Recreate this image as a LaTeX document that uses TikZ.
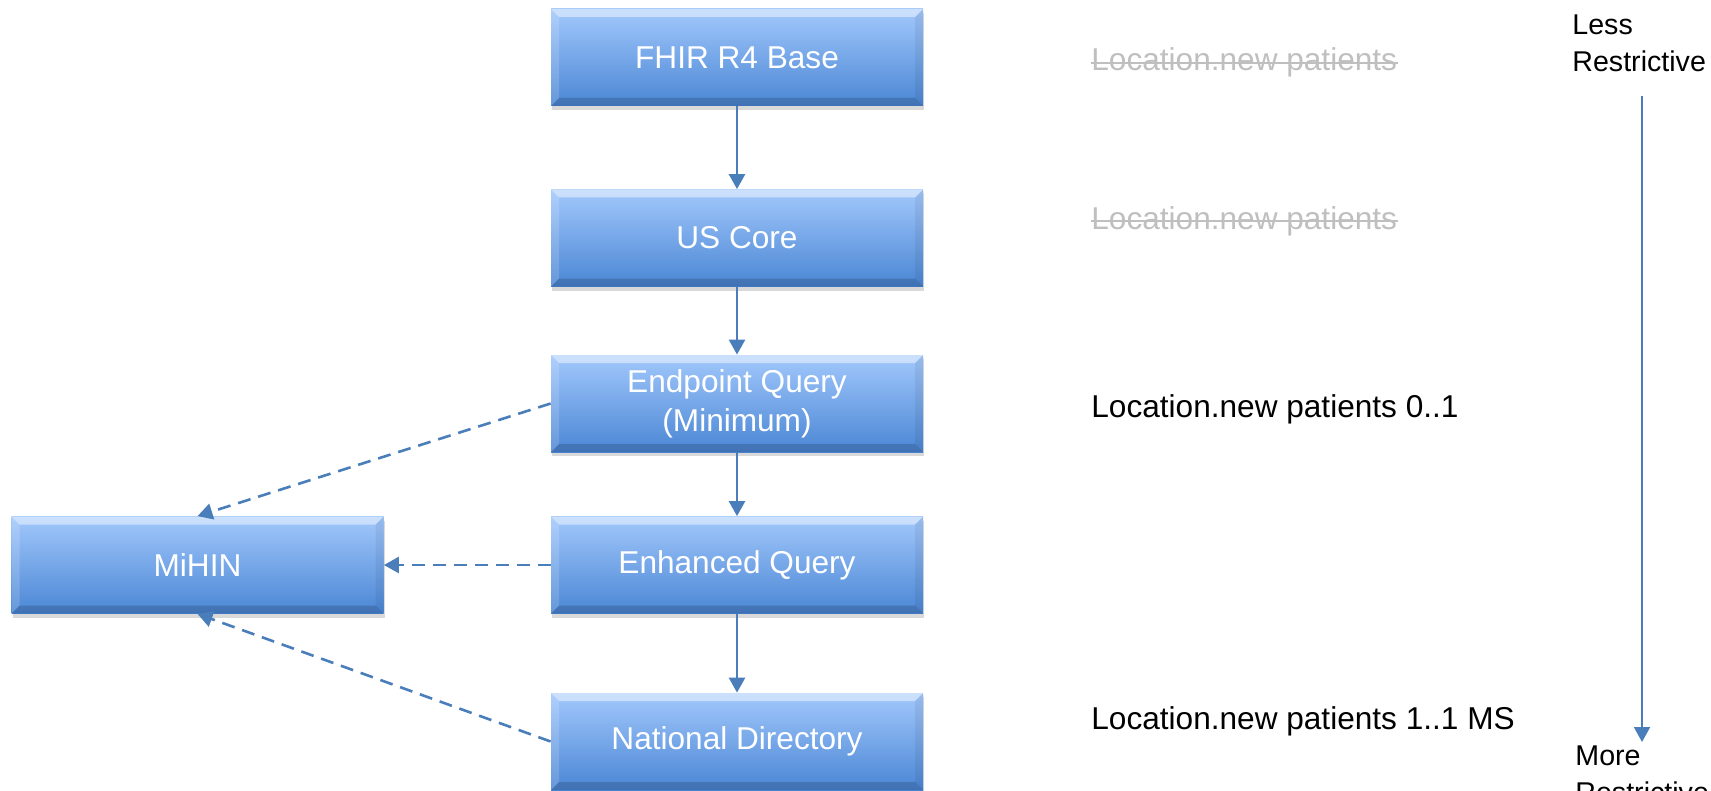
\documentclass[tikz,border=0pt]{standalone}
\usepackage{fontspec}
\setmainfont{Liberation Sans}
\usetikzlibrary{positioning, arrows.meta, shadows}

\definecolor{linkblue}{RGB}{74,126,187}
\definecolor{boxtop}{RGB}{162,200,252}
\definecolor{boxbottom}{RGB}{74,134,212}
\definecolor{oldgray}{RGB}{191,191,191}

\begin{document}
\begin{tikzpicture}[x=0.5pt, y=-0.5pt]
        \tikzstyle{stage}=[rectangle, minimum width=186pt, minimum height=48.5pt, inner sep=0pt,
            top color=boxtop, bottom color=boxbottom, text=white, align=center,
            font=\fontsize{15.8}{19.5}\selectfont,
            drop shadow={shadow xshift=0.5pt, shadow yshift=-2pt, opacity=0.3},
            path picture={
                \fill[white, opacity=0.45] (path picture bounding box.north west) -- (path picture bounding box.north east)
                    -- ([shift={(-4pt,-4pt)}]path picture bounding box.north east) -- ([shift={(4pt,-4pt)}]path picture bounding box.north west) -- cycle;
                \fill[white, opacity=0.15] (path picture bounding box.north west) -- (path picture bounding box.south west)
                    -- ([shift={(4pt,4pt)}]path picture bounding box.south west) -- ([shift={(4pt,-4pt)}]path picture bounding box.north west) -- cycle;
                \fill[black, opacity=0.06] (path picture bounding box.north east) -- (path picture bounding box.south east)
                    -- ([shift={(-4pt,4pt)}]path picture bounding box.south east) -- ([shift={(-4pt,-4pt)}]path picture bounding box.north east) -- cycle;
                \fill[black, opacity=0.15] (path picture bounding box.south west) -- (path picture bounding box.south east)
                    -- ([shift={(-4pt,4pt)}]path picture bounding box.south east) -- ([shift={(4pt,4pt)}]path picture bounding box.south west) -- cycle;
            }];
        \tikzstyle{note}=[anchor=base west, inner sep=0pt, font=\fontsize{15.8}{19.5}\selectfont];
        \tikzstyle{struck}=[oldgray, line width=0.9pt];
        \tikzstyle{rank}=[anchor=base west, inner sep=0pt, align=left, font=\fontsize{14.3}{18.5}\selectfont];
        \tikzstyle{flow}=[-{Triangle[width=8pt, length=7.5pt]}, line width=1.3pt, linkblue];
        \tikzstyle{feed}=[flow, dash pattern=on 6.5pt off 4pt];

        \useasboundingbox (0, 0) rectangle (1711, 791);

        \node (base) at (737, 57.5) [stage] {FHIR R4 Base};
        \node (uscore) at (737, 238) [stage] {US Core};
        \node (endpoint) at (737, 403.5) [stage] {Endpoint Query\\(Minimum)};
        \node (enhanced) at (737, 565) [stage] {Enhanced Query};
        \node (national) at (737, 741.5) [stage] {National Directory};

        \node (mihin) at (197.5, 565) [stage] {MiHIN};

        \draw (base) edge[flow] (uscore);
        \draw (uscore) edge[flow] (endpoint);
        \draw (endpoint) edge[flow] (enhanced);
        \draw (enhanced) edge[flow] (national);

        \draw (endpoint.west) edge[feed] (mihin.north);
        \draw (enhanced) edge[feed] (mihin);
        \draw (national.west) edge[feed] (mihin.south);

        \node (oldbase) at (1091, 71) [note, text=oldgray] {Location.new patients};
        \node (oldcore) at (1091, 229) [note, text=oldgray] {Location.new patients};
        \draw[struck] ([yshift=4pt]oldbase.base west) -- ([yshift=4pt]oldbase.base east);
        \draw[struck] ([yshift=4pt]oldcore.base west) -- ([yshift=4pt]oldcore.base east);
        \node (minimum) at (1091, 417) [note] {Location.new patients 0..1};
        \node (directory) at (1091, 729) [note] {Location.new patients 1..1 MS};

        \node (less) at (1572, 72) [rank] {Less\\Restrictive};
        \node (more) at (1575, 802) [rank] {More\\Restrictive};
        \coordinate (top) at (1642, 96);
        \coordinate (bottom) at (1642, 742);
        \draw (top) edge[flow, line width=1pt] (bottom);
\end{tikzpicture}
\end{document}
